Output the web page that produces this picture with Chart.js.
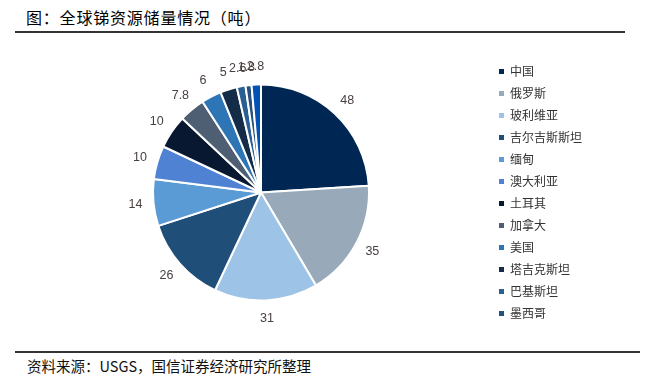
<!DOCTYPE html>
<html>
<head>
<meta charset="utf-8">
<script src="https://cdn.jsdelivr.net/npm/chart.js@4/dist/chart.umd.min.js"></script>
<style>
html,body{margin:0;padding:0;background:#fff;}
body{width:661px;height:379px;position:relative;overflow:hidden;font-family:"Noto Sans CJK SC","Noto Sans",sans-serif;}
.ttl{position:absolute;left:26px;top:5px;font-size:16px;color:#000;letter-spacing:0.8px;}
.ln1{position:absolute;left:15px;top:31px;width:610px;height:2px;background:#333;}
.ln2{position:absolute;left:15px;top:351px;width:625px;height:1.5px;background:#333;}
.src{position:absolute;left:27px;top:355px;font-size:14.5px;color:#111;}
#wrap{position:absolute;left:0;top:36px;width:661px;height:312px;}
</style>
</head>
<body>
<div class="ttl">图：全球锑资源储量情况（吨）</div>
<div class="ln1"></div>
<div id="wrap"><canvas id="pieChart"></canvas></div>
<div class="ln2"></div>
<div class="src">资料来源：USGS，国信证券经济研究所整理</div>
<script>
/* ── DATA ── */
var countries=['中国','俄罗斯','玻利维亚','吉尔吉斯斯坦','缅甸','澳大利亚','土耳其','加拿大','美国','塔吉克斯坦','巴基斯坦','墨西哥','其他'];
var reserves=[48,35,31,26,14,10,10,7.8,6,5,2.6,1.8,2.8];
var valueLabels=['48','35','31','26','14','10','10','7.8','6','5','2.6','1.8','2.8'];
var legendCount=12;
var colors=['#002654','#98A9B9','#9DC3E6','#1F4E79','#5B9BD5','#4F82D3','#071830','#4E5F73','#2E75B6','#142C47','#2A5F94','#24507F','#0052B4'];

/* ── OUTSIDE VALUE LABELS ── */
var outLabels={
  id:'outLabels',
  afterDatasetsDraw:function(chart){
    var ctx=chart.ctx;
    var meta=chart.getDatasetMeta(0);
    ctx.save();
    ctx.font='12.5px "Liberation Sans", Arial, sans-serif';
    ctx.fillStyle='#4a4040';
    ctx.textAlign='center';ctx.textBaseline='middle';
    meta.data.forEach(function(arc,i){
      var p=arc.getProps(['x','y','startAngle','endAngle','outerRadius'],true);
      var a=(p.startAngle+p.endAngle)/2;
      var r=p.outerRadius+18;
      ctx.fillText(valueLabels[i],p.x+Math.cos(a)*r,p.y+Math.sin(a)*r);
    });
    ctx.restore();
  }
};

new Chart(document.getElementById('pieChart').getContext('2d'),{
  type:'pie',
  data:{labels:countries,datasets:[{data:reserves,backgroundColor:colors,borderColor:'#fff',borderWidth:2}]},
  options:{
    responsive:true,maintainAspectRatio:false,animation:false,
    radius:108,
    layout:{padding:{left:33,right:69,top:10,bottom:9}},
    plugins:{
      tooltip:{enabled:false},
      legend:{
        position:'right',align:'center',
        labels:{
          boxWidth:5,boxHeight:5,padding:10,color:'#333',
          font:{size:12,family:'"Noto Sans CJK SC", sans-serif'},
          generateLabels:function(chart){
            var items=Chart.overrides.pie.plugins.legend.labels.generateLabels(chart);
            items.forEach(function(it){it.lineWidth=0;it.strokeStyle=it.fillStyle;});
            return items;
          },
          filter:function(item){return item.index<legendCount;}
        }
      }
    }
  },
  plugins:[outLabels]
});
</script>
</body>
</html>
